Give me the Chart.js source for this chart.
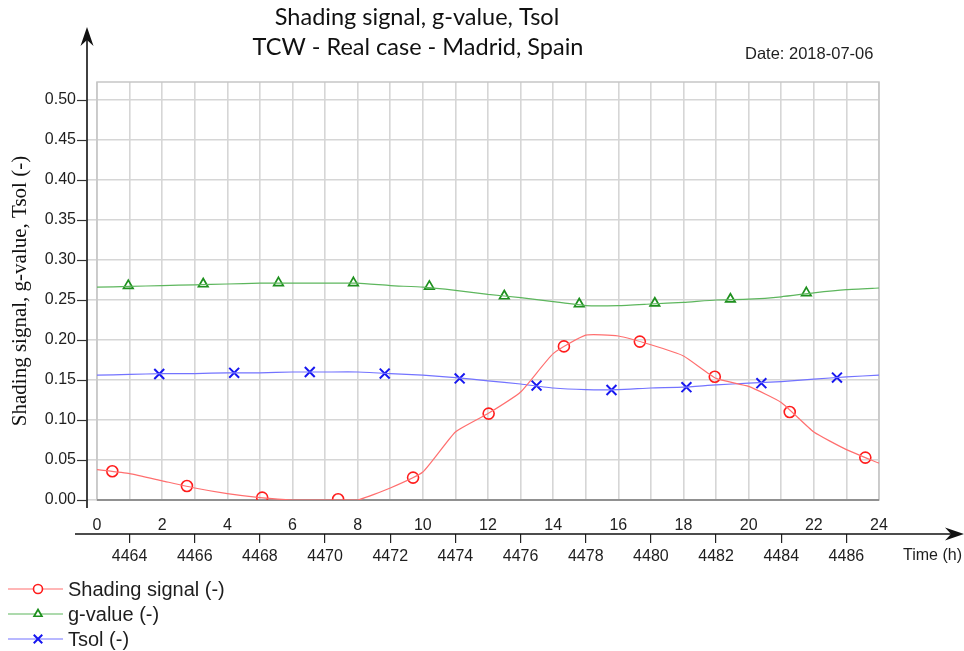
<!DOCTYPE html>
<html>
<head>
<meta charset="utf-8">
<title>Shading signal, g-value, Tsol</title>
<script src="https://cdn.jsdelivr.net/npm/chart.js@4.4.1/dist/chart.umd.min.js"></script>
<style>
  html, body { margin: 0; padding: 0; background: #fff; }
  #wrap { position: relative; width: 964px; height: 651px; }
</style>
</head>
<body>
<div id="wrap"><canvas id="chart" width="964" height="651"></canvas></div>
<script>
// Hourly series, day 2018-07-06 (hour 0..24)
const hours   = [0, 1, 2, 3, 4, 5, 6, 7, 8, 9, 10, 11, 12, 13, 14, 15, 16, 17, 18, 19, 20, 21, 22, 23, 24];
const shading = [0.038, 0.033, 0.024, 0.015, 0.008, 0.003, 0.000, 0.000, 0.000, 0.015, 0.035, 0.085, 0.108,
                 0.135, 0.183, 0.206, 0.205, 0.194, 0.180, 0.152, 0.142, 0.122, 0.085, 0.063, 0.046];
const gValue  = [0.266, 0.267, 0.268, 0.269, 0.270, 0.271, 0.271, 0.271, 0.271, 0.268, 0.266, 0.262, 0.257,
                 0.253, 0.248, 0.243, 0.243, 0.245, 0.247, 0.250, 0.251, 0.254, 0.259, 0.263, 0.265];
const tsol    = [0.156, 0.157, 0.158, 0.158, 0.159, 0.159, 0.160, 0.160, 0.160, 0.158, 0.156, 0.153, 0.149,
                 0.145, 0.140, 0.138, 0.138, 0.140, 0.141, 0.144, 0.146, 0.148, 0.151, 0.154, 0.156];

// Marker positions along each curve
const shadingMarkHours = [0.47, 2.76, 5.07, 7.4, 9.7, 12.02, 14.33, 16.66, 18.96, 21.26, 23.58];
const shadingMarkVals  = [0.036, 0.0175, 0.003, 0.001, 0.028, 0.108, 0.192, 0.198, 0.154, 0.110, 0.053];
const gMarkHours = [0.96, 3.26, 5.57, 7.87, 10.2, 12.5, 14.8, 17.12, 19.44, 21.77];
const gMarkVals  = [0.268, 0.270, 0.2715, 0.2715, 0.267, 0.255, 0.245, 0.246, 0.251, 0.259];
const tsolMarkHours = [1.91, 4.21, 6.53, 8.83, 11.13, 13.49, 15.79, 18.09, 20.39, 22.71];
const tsolMarkVals  = [0.1575, 0.159, 0.160, 0.158, 0.152, 0.143, 0.1375, 0.141, 0.146, 0.153];

// Axis ticks
const yTicks    = [0, 0.05, 0.10, 0.15, 0.20, 0.25, 0.30, 0.35, 0.40, 0.45, 0.50];
const hourTicks = hours;
const stepTicks = [4464, 4466, 4468, 4470, 4472, 4474, 4476, 4478, 4480, 4482, 4484, 4486];

const SANS = "'Liberation Sans', Arial, sans-serif";
const TEXT = '#1e1e1e';
const GRID = '#d6d6d6';

const zip = (xs, ys) => xs.map((x, i) => ({ x, y: ys[i] }));

function lineSet(label, values, color) {
  return {
    label,
    data: zip(hours, values),
    borderColor: color,
    borderWidth: 1.2,
    pointRadius: 0,
    tension: 0.15,
    fill: false,
  };
}

function markSet(label, xs, ys, color, style, radius, width) {
  return {
    label,
    data: zip(xs, ys),
    showLine: false,
    pointStyle: style,
    pointRadius: radius,
    pointBorderColor: color,
    pointBackgroundColor: 'rgba(255,255,255,0)',
    pointBorderWidth: width,
  };
}

const datasets = [
  lineSet('Shading signal (-)', shading, '#ff6f6f'),
  lineSet('g-value (-)', gValue, '#5db65d'),
  lineSet('Tsol (-)', tsol, '#7373ff'),
  markSet('Shading signal marks', shadingMarkHours, shadingMarkVals, '#ff1c1c', 'circle', 5.5, 1.6),
  markSet('g-value marks', gMarkHours, gMarkVals, '#1e901e', 'triangle', 5.5, 1.7),
  markSet('Tsol marks', tsolMarkHours, tsolMarkVals, '#1616f0', 'crossRot', 7, 2),
];

// axis lines, arrows, titles and the legend block
const decor = {
  id: 'decor',
  beforeDatasetsDraw(chart) {
    const { ctx, chartArea: a } = chart;
    ctx.save();
    ctx.strokeStyle = '#c6c6c6';
    ctx.lineWidth = 1.5;
    ctx.strokeRect(a.left, a.top, a.right - a.left, a.bottom - a.top);
    ctx.strokeStyle = '#7c7c7c';
    ctx.beginPath();
    ctx.moveTo(a.left, a.bottom);
    ctx.lineTo(a.right, a.bottom);
    ctx.stroke();
    ctx.restore();
  },
  afterDraw(chart) {
    const { ctx } = chart;
    const yScale = chart.scales.y;
    const axisX = 87, axisY = 534;
    ctx.save();
    ctx.strokeStyle = '#111';
    ctx.fillStyle = '#111';
    ctx.lineWidth = 1.6;

    // vertical axis with arrow
    ctx.beginPath();
    ctx.moveTo(axisX, 508);
    ctx.lineTo(axisX, 36);
    ctx.stroke();
    ctx.beginPath();
    ctx.moveTo(axisX, 27);
    ctx.lineTo(axisX - 6.5, 46);
    ctx.lineTo(axisX, 40);
    ctx.lineTo(axisX + 6.5, 46);
    ctx.closePath();
    ctx.fill();

    // y tick marks left of the axis
    ctx.lineWidth = 1.2;
    ctx.strokeStyle = '#333';
    yScale.ticks.forEach(t => {
      const py = Math.round(yScale.getPixelForValue(t.value)) + 0.5;
      ctx.beginPath();
      ctx.moveTo(axisX - 10, py);
      ctx.lineTo(axisX, py);
      ctx.stroke();
    });

    // horizontal time axis with arrow
    ctx.strokeStyle = '#111';
    ctx.lineWidth = 1.6;
    ctx.beginPath();
    ctx.moveTo(75, axisY);
    ctx.lineTo(956, axisY);
    ctx.stroke();
    ctx.beginPath();
    ctx.moveTo(964, axisY);
    ctx.lineTo(945, axisY - 6.5);
    ctx.lineTo(951, axisY);
    ctx.lineTo(945, axisY + 6.5);
    ctx.closePath();
    ctx.fill();

    // titles
    ctx.fillStyle = '#111';
    ctx.textAlign = 'center';
    ctx.textBaseline = 'middle';
    ctx.font = "23.5px Lato, 'Open Sans', sans-serif";
    ctx.fillText('Shading signal, g-value, Tsol', 417, 17);
    ctx.fillText('TCW - Real case - Madrid, Spain', 418, 47);

    ctx.textAlign = 'left';
    ctx.fillStyle = TEXT;
    ctx.font = '16.5px ' + SANS;
    ctx.fillText('Date: 2018-07-06', 745, 54);
    ctx.font = '16px ' + SANS;
    ctx.fillText('Time (h)', 903, 556);

    // legend: line + marker + label
    const rows = [589, 614, 639];
    for (let i = 0; i < 3; i++) {
      const line = chart.data.datasets[i];
      const mark = chart.data.datasets[i + 3];
      const y = rows[i];
      ctx.strokeStyle = line.borderColor;
      ctx.lineWidth = 1.2;
      ctx.beginPath();
      ctx.moveTo(8, y);
      ctx.lineTo(63, y);
      ctx.stroke();
      ctx.strokeStyle = mark.pointBorderColor;
      ctx.fillStyle = '#fff';
      ctx.lineWidth = mark.pointBorderWidth;
      Chart.helpers.drawPoint(ctx, {
        pointStyle: mark.pointStyle,
        radius: mark.pointStyle === 'crossRot' ? 6 : 4.5,
        borderWidth: mark.pointBorderWidth,
        rotation: 0,
      }, 38, y);
      ctx.fillStyle = TEXT;
      ctx.font = '20px ' + SANS;
      ctx.fillText(line.label, 68, y + 1);
    }
    ctx.restore();
  },
};

new Chart(document.getElementById('chart'), {
  type: 'line',
  data: { datasets },
  plugins: [decor],
  options: {
    responsive: false,
    animation: false,
    events: [],
    layout: { padding: { top: 82, right: 85, bottom: 77, left: 0 } },
    plugins: {
      legend: { display: false },
      title: { display: false },
      tooltip: { enabled: false },
    },
    scales: {
      x: {
        type: 'linear',
        position: 'bottom',
        min: 0,
        max: 24,
        afterBuildTicks: s => { s.ticks = hourTicks.map(v => ({ value: v })); },
        afterFit: s => { s.height = 34; },
        grid: { color: GRID, lineWidth: 1.6, drawTicks: false },
        border: { display: false },
        ticks: {
          autoSkip: false,
          maxRotation: 0,
          padding: 16,
          color: TEXT,
          font: { family: SANS, size: 16 },
          callback: v => (v % 2 === 0 ? String(v) : ''),
        },
      },
      x2: {
        type: 'linear',
        position: 'bottom',
        min: 4463,
        max: 4487,
        afterBuildTicks: s => { s.ticks = stepTicks.map(v => ({ value: v })); },
        afterFit: s => { s.height = 40; },
        grid: { drawOnChartArea: false, drawTicks: true, tickLength: 9, tickColor: '#222', lineWidth: 1.2 },
        border: { display: false },
        ticks: {
          autoSkip: false,
          maxRotation: 0,
          padding: 4,
          color: TEXT,
          font: { family: SANS, size: 16 },
          callback: v => String(v),
        },
      },
      y: {
        type: 'linear',
        min: 0,
        max: 0.5225,
        afterBuildTicks: s => { s.ticks = yTicks.map(v => ({ value: v })); },
        afterFit: s => { s.width = 97; },
        grid: { color: GRID, lineWidth: 1.6, tickLength: 10, tickColor: GRID },
        border: { display: false },
        ticks: {
          padding: 11,
          color: TEXT,
          font: { family: SANS, size: 16 },
          callback: v => v.toFixed(2),
        },
        title: {
          display: true,
          text: 'Shading signal, g-value, Tsol (-)',
          color: '#111',
          font: { family: "'Liberation Serif', 'Times New Roman', serif", size: 21 },
          padding: { top: 8, bottom: 0 },
        },
      },
    },
  },
});
</script>
</body>
</html>
